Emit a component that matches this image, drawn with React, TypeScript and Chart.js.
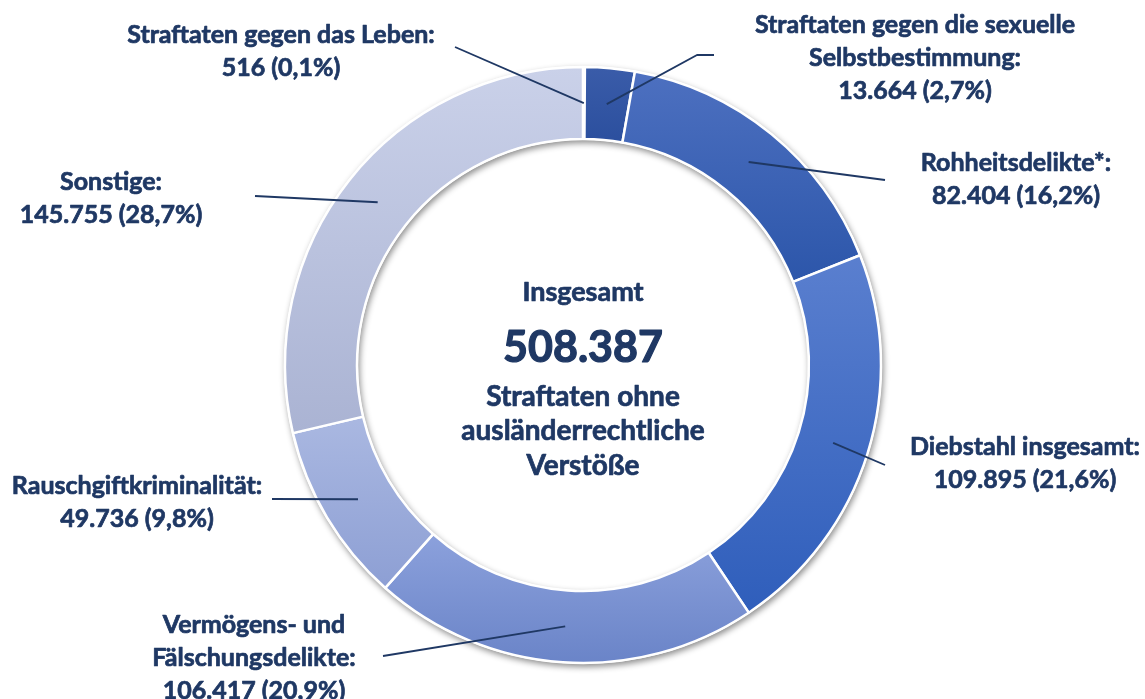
import React, { useEffect, useRef } from "react";
import { Chart, registerables } from "chart.js";

Chart.register(...registerables);

// ---- data ----
const categories = [
  "Straftaten gegen das Leben",
  "Straftaten gegen die sexuelle Selbstbestimmung",
  "Rohheitsdelikte*",
  "Diebstahl insgesamt",
  "Vermögens- und Fälschungsdelikte",
  "Rauschgiftkriminalität",
  "Sonstige",
];
const values = [516, 13664, 82404, 109895, 106417, 49736, 145755];
const labelTitleLines = [
  ["Straftaten gegen das Leben:"],
  ["Straftaten gegen die sexuelle", "Selbstbestimmung:"],
  ["Rohheitsdelikte*:"],
  ["Diebstahl insgesamt:"],
  ["Vermögens- und", "Fälschungsdelikte:"],
  ["Rauschgiftkriminalität:"],
  ["Sonstige:"],
];
const centerTitle = "Insgesamt";
const centerSubtitle = ["Straftaten ohne", "ausländerrechtliche", "Verstöße"];

// ---- styles / layout ----
const topColors = ["#2a4b96", "#3a5ca9", "#4d70c0", "#5a7fcf", "#8ca1dc", "#aab8e1", "#cad1e9"];
const bottomColors = ["#1f3f88", "#2b4f9e", "#2c56aa", "#2f5ebb", "#6a84c8", "#8d9fd4", "#aab3d3"];
const TEXT_COLOR = "#1f3864";
const FONT = "Lato, Carlito, Calibri, 'Open Sans', sans-serif";
const OUTER_R = 298;
const INNER_R = 225;
// label layout: text center x, first line center y, leader-line points after the arc point
const labelAnchors = [
  { x: 281, y: 35, path: [[455, 47]] },
  { x: 915, y: 25, path: [[697, 55], [714, 55]] },
  { x: 1016, y: 163, path: [[885, 180]] },
  { x: 1025, y: 447, path: [[885, 465]] },
  { x: 254, y: 625, path: [[383, 656]] },
  { x: 137, y: 486, path: [[272, 499]] },
  { x: 111, y: 182, path: [[255, 196]] },
];
const LINE_H = 33;

function fmtThousands(n: number): string {
  return String(n).replace(/\B(?=(\d{3})+(?!\d))/g, ".");
}
function fmtPct(v: number, total: number): string {
  return ((v / total) * 100).toFixed(1).replace(".", ",") + "%";
}

const total = values.reduce((a, b) => a + b, 0);

function segmentGradient(context: any) {
  const chart = context.chart;
  const i = context.dataIndex;
  const area = chart.chartArea;
  if (!area || i === undefined) return bottomColors[i ?? 0];
  const cx = (area.left + area.right) / 2;
  const cy = (area.top + area.bottom) / 2;
  let cum = 0;
  for (let k = 0; k < i; k++) cum += values[k];
  const a0 = -Math.PI / 2 + (2 * Math.PI * cum) / total;
  const a1 = -Math.PI / 2 + (2 * Math.PI * (cum + values[i])) / total;
  let minY = Infinity;
  let maxY = -Infinity;
  for (let s = 0; s <= 40; s++) {
    const a = a0 + ((a1 - a0) * s) / 40;
    for (const r of [INNER_R, OUTER_R]) {
      const y = cy + r * Math.sin(a);
      minY = Math.min(minY, y);
      maxY = Math.max(maxY, y);
    }
  }
  if (maxY - minY < 1) maxY = minY + 1;
  const g = chart.ctx.createLinearGradient(0, minY, 0, maxY);
  g.addColorStop(0, topColors[i]);
  g.addColorStop(1, bottomColors[i]);
  return g;
}

function boldText(ctx: CanvasRenderingContext2D, t: string, x: number, y: number, sw: number) {
  ctx.fillText(t, x, y);
  ctx.lineWidth = sw;
  ctx.strokeStyle = TEXT_COLOR;
  ctx.lineJoin = "round";
  ctx.strokeText(t, x, y);
}

const shadowPlugin = {
  id: "ringShadow",
  beforeDatasetsDraw(chart: any) {
    const meta = chart.getDatasetMeta(0);
    const el = meta.data[0];
    if (!el) return;
    const { x, y, outerRadius, innerRadius } = el.getProps(["x", "y", "outerRadius", "innerRadius"], true);
    const ctx = chart.ctx;
    ctx.save();
    ctx.beginPath();
    ctx.arc(x, y, outerRadius + 1, 0, Math.PI * 2);
    ctx.arc(x, y, innerRadius - 1, Math.PI * 2, 0, true);
    ctx.closePath();
    ctx.shadowColor = "rgba(0,0,0,0.45)";
    ctx.shadowBlur = 6;
    ctx.shadowOffsetX = 1.5;
    ctx.shadowOffsetY = 3;
    ctx.fillStyle = "#ffffff";
    ctx.fill("evenodd");
    ctx.restore();
  },
};

const labelPlugin = {
  id: "leaderLabels",
  afterDatasetsDraw(chart: any) {
    const ctx = chart.ctx;
    const meta = chart.getDatasetMeta(0);
    ctx.save();
    meta.data.forEach((arc: any, i: number) => {
      const p = arc.tooltipPosition(true);
      const anchor = labelAnchors[i];
      ctx.beginPath();
      ctx.moveTo(p.x, p.y);
      anchor.path.forEach((pt) => ctx.lineTo(pt[0], pt[1]));
      ctx.strokeStyle = TEXT_COLOR;
      ctx.lineWidth = 1.9;
      ctx.stroke();
      const lines = [...labelTitleLines[i], `${fmtThousands(values[i])} (${fmtPct(values[i], total)})`];
      ctx.fillStyle = TEXT_COLOR;
      ctx.font = `bold 25px ${FONT}`;
      ctx.textAlign = "center";
      ctx.textBaseline = "middle";
      lines.forEach((t, j) => boldText(ctx, t, anchor.x, anchor.y + j * LINE_H, 0.7));
    });
    // center text
    const el = meta.data[0];
    const cx = el.x;
    ctx.fillStyle = TEXT_COLOR;
    ctx.textAlign = "center";
    ctx.textBaseline = "middle";
    ctx.font = `bold 27px ${FONT}`;
    boldText(ctx, centerTitle, cx, 292, 0.7);
    ctx.font = `bold 43px ${FONT}`;
    boldText(ctx, fmtThousands(total), cx, 348, 1.2);
    ctx.font = `bold 28px ${FONT}`;
    boldText(ctx, centerSubtitle[0], cx, 397, 0.7);
    boldText(ctx, centerSubtitle[1], cx, 431, 0.7);
    boldText(ctx, centerSubtitle[2], cx, 466, 0.7);
    ctx.restore();
  },
};

export default function App() {
  const canvasRef = useRef<HTMLCanvasElement | null>(null);

  useEffect(() => {
    document.body.style.margin = "0";
    const canvas = canvasRef.current;
    if (!canvas) return;
    const chart = new Chart(canvas, {
      type: "doughnut",
      data: {
        labels: categories,
        datasets: [
          {
            data: values,
            backgroundColor: segmentGradient as any,
            borderColor: "#ffffff",
            borderWidth: 2.5,
          },
        ],
      },
      options: {
        responsive: false,
        animation: false,
        radius: OUTER_R,
        cutout: INNER_R,
        rotation: 0,
        layout: { padding: { top: 67, bottom: 36, left: 21, right: 0 } },
        plugins: {
          legend: { display: false },
          tooltip: { enabled: false },
        },
      } as any,
      plugins: [shadowPlugin, labelPlugin],
    });
    return () => chart.destroy();
  }, []);

  return (
    <div style={{ width: 1145, height: 699, background: "#ffffff" }}>
      <canvas ref={canvasRef} width={1145} height={699} style={{ display: "block" }} />
    </div>
  );
}
